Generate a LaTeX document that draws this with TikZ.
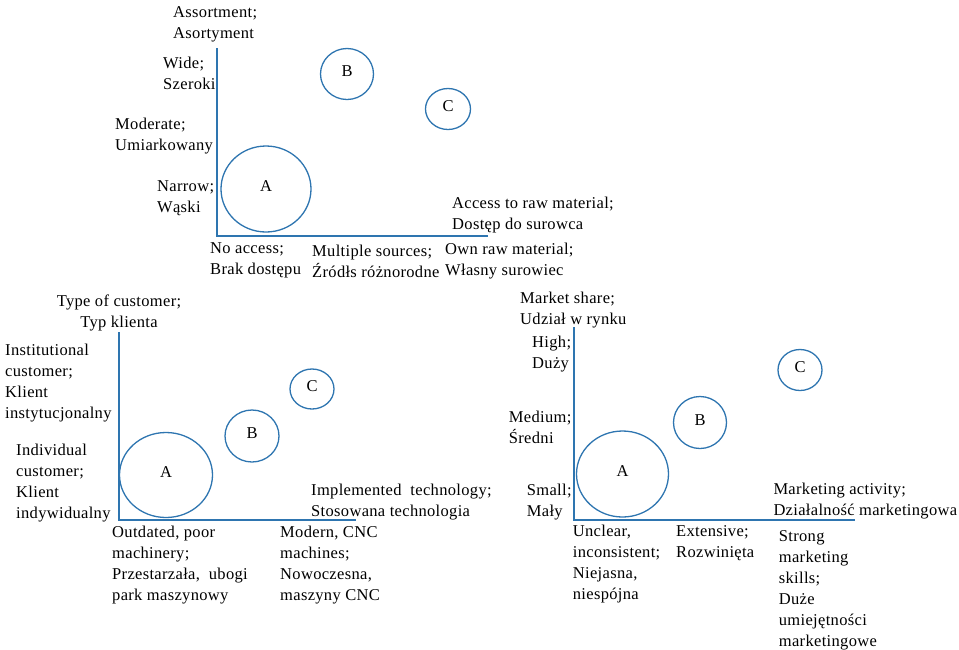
\documentclass[tikz,border=0pt]{standalone}
\usepackage{fontspec}
\setmainfont{Liberation Serif}[LetterSpace=2]
\usetikzlibrary{shapes.geometric}
\definecolor{axisblue}{RGB}{46,117,176}
\tikzset{
  axisline/.style={draw=axisblue, line width=1.5pt},
  bubble/.style={ellipse, draw=axisblue, line width=1.3pt, inner sep=0pt,
    text height=11pt, text depth=6pt, font=\fontsize{16.5}{21}\selectfont},
  lbl/.style={inner sep=0pt, anchor=west, align=left, font=\fontsize{16.5}{21}\selectfont},
  clbl/.style={inner sep=0pt, anchor=center, align=center, font=\fontsize{16.5}{21}\selectfont}
}
\begin{document}
\begin{tikzpicture}[x=1pt, y=-1pt]
\useasboundingbox (0,0) rectangle (959,649);

% ---- Chart 1: assortment vs. access to raw material ----
\coordinate (t1) at (217,48);
\coordinate (o1) at (217,236);
\coordinate (r1) at (488,236);
\draw[axisline] (t1) -- (o1) -- (r1);
\node[bubble, minimum width=90pt, minimum height=86pt] (A1) at (266,189) {A};
\node[bubble, minimum width=53pt, minimum height=51pt] (B1) at (347,74) {B};
\node[bubble, minimum width=45pt, minimum height=41pt] (C1) at (448,109) {C};
\node[lbl] (y1) at (173,24.5) {Assortment;\\Asortyment};
\node[lbl] (y1a) at (163,73.5) {Wide;\\Szeroki};
\node[lbl] (y1b) at (115,136.5) {Moderate;\\Umiarkowany};
\node[lbl] (y1c) at (157,198.5) {Narrow;\\Wąski};
\node[lbl] (x1) at (452,215.5) {Access to raw material;\\Dostęp do surowca};
\node[lbl] (x1a) at (210,260.5) {No access;\\Brak dostępu};
\node[lbl] (x1b) at (312,261.5) {Multiple sources;\\Źródłs różnorodne};
\node[lbl] (x1c) at (445,261.5) {Own raw material;\\Własny surowiec};

% ---- Chart 2: type of customer vs. implemented technology ----
\coordinate (t2) at (119,332);
\coordinate (o2) at (119,520);
\coordinate (r2) at (356,520);
\draw[axisline] (t2) -- (o2) -- (r2);
\node[bubble, minimum width=93pt, minimum height=85pt] (A2) at (166,475) {A};
\node[bubble, minimum width=54pt, minimum height=52pt] (B2) at (252,436) {B};
\node[bubble, minimum width=44pt, minimum height=40pt] (C2) at (312,389) {C};
\node[clbl] (y2) at (119,312.5) {Type of customer;\\Typ klienta};
\node[lbl] (y2a) at (5,382.7) {Institutional\\customer;\\Klient\\instytucjonalny};
\node[lbl] (y2b) at (16,482.7) {Individual\\customer;\\Klient\\indywidualny};
\node[lbl] (x2) at (311,502) {Implemented \ technology;\\Stosowana technologia};
\node[lbl] (x2a) at (112,565.3) {Outdated, poor\\machinery;\\Przestarzała, \ ubogi\\park maszynowy};
\node[lbl] (x2b) at (280,565.3) {Modern, CNC\\machines;\\Nowoczesna,\\maszyny CNC};

% ---- Chart 3: market share vs. marketing activity ----
\coordinate (t3) at (574,327);
\coordinate (o3) at (574,520);
\coordinate (r3) at (855,520);
\draw[axisline] (t3) -- (o3) -- (r3);
\node[bubble, minimum width=92pt, minimum height=86pt] (A3) at (622.5,474) {A};
\node[bubble, minimum width=53pt, minimum height=52pt] (B3) at (700,422.5) {B};
\node[bubble, minimum width=44pt, minimum height=41pt] (C3) at (800,370) {C};
\node[lbl] (y3) at (520,310) {Market share;\\Udział w rynku};
\node[lbl] (y3a) at (532,354.2) {High;\\Duży};
\node[lbl] (y3b) at (508.7,427) {Medium;\\Średni};
\node[lbl] (y3c) at (526.7,502.3) {Small;\\Mały};
\node[lbl] (x3) at (773.3,501) {Marketing activity;\\Działalność marketingowa};
\node[lbl] (x3a) at (572.7,564.5) {Unclear,\\inconsistent;\\Niejasna,\\niespójna};
\node[lbl] (x3b) at (676,542.8) {Extensive;\\Rozwinięta};
\node[lbl] (x3c) at (778.7,590) {Strong\\marketing\\skills;\\Duże\\umiejętności\\marketingowe};
\end{tikzpicture}
\end{document}
